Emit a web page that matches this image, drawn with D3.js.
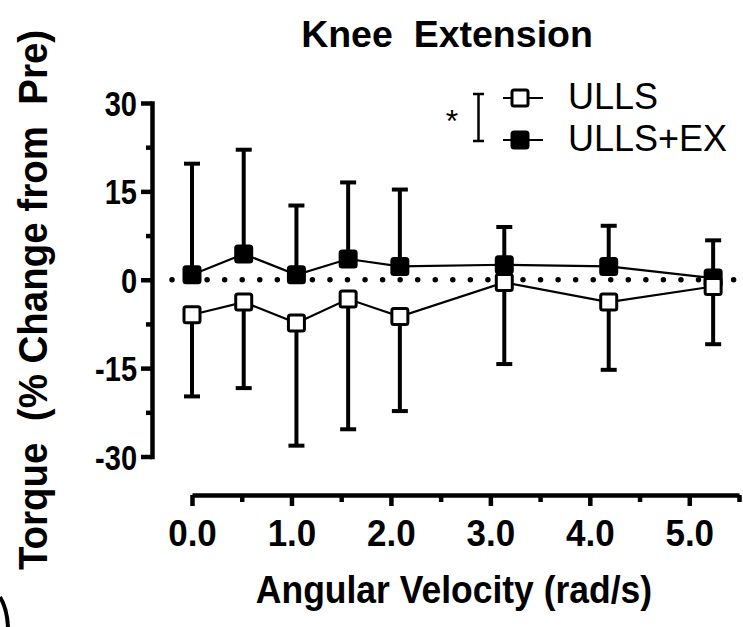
<!DOCTYPE html>
<html>
<head>
<meta charset="utf-8">
<script src="https://cdn.jsdelivr.net/npm/d3@7"></script>
<style>
  html, body { margin: 0; padding: 0; background: #fff; }
  svg { display: block; }
  text { font-family: "Liberation Sans", Arial, sans-serif; fill: #000; }
</style>
</head>
<body>
<svg id="chart" width="743" height="627"></svg>
<script>
// ---- data ----
const velocities = [0, 0.52, 1.05, 1.57, 2.09, 3.14, 4.19, 5.24];
const ullsMean   = [-5.95, -3.79, -7.36, -3.28, -6.24, -0.46, -3.79, -1.14];
const ullsSD     = [13.85, 14.6, 20.8, 22.1, 16.05, 13.85, 11.5, 9.8];
const exMean     = [0.85, 4.37, 0.85, 3.52, 2.26, 2.55, 2.26, 0.29];
const exSD       = [18.85, 17.7, 11.75, 13.0, 13.05, 6.4, 6.9, 6.4];
const yTicks     = [-30, -15, 0, 15, 30];
const yMinor     = [-22.5, -7.5, 7.5, 22.5];
const xTicks     = [0, 1, 2, 3, 4, 5];
const xMinor     = [0.5, 1.5, 2.5, 3.5, 4.5, 5.5];
const seriesNames = ["ULLS", "ULLS+EX"];

const svg = d3.select("#chart");
const x = d3.scaleLinear().domain([0, 5.5]).range([192, 739]);
const y = d3.scaleLinear().domain([-30, 30]).range([456.5, 103]);
const yAxisX = 152;
const xAxisY = 495;

// ---- title ----
svg.append("text").attr("x", 447).attr("y", 47)
  .attr("text-anchor", "middle").style("white-space", "pre")
  .attr("font-size", 37.5).attr("font-weight", "bold").text("Knee  Extension");

// ---- y axis ----
const yAxis = svg.append("g").attr("transform", `translate(${yAxisX},0)`);
yAxis.call(d3.axisLeft(y).tickValues(yTicks).tickSize(11).tickSizeOuter(0).tickPadding(4)
  .tickFormat(d => String(d)));
yAxis.append("g").call(d3.axisLeft(y).tickValues(yMinor).tickSize(6).tickSizeOuter(0).tickFormat(""))
  .select(".domain").remove();
yAxis.selectAll("line").attr("stroke", "#000").attr("stroke-width", 4.5);
yAxis.selectAll(".domain").attr("stroke", "#000").attr("stroke-width", 4.5).attr("stroke-linecap", "square");
yAxis.selectAll("text").attr("font-size", 29).attr("font-weight", "bold")
  .attr("font-family", "'Liberation Sans', Arial, sans-serif").attr("dy", "0.36em")
  .attr("transform", "scale(1,1.2)");

// ---- x axis ----
const xAxis = svg.append("g").attr("transform", `translate(0,${xAxisY})`);
xAxis.call(d3.axisBottom(x).tickValues(xTicks).tickSize(11).tickSizeOuter(0).tickPadding(11).tickFormat(d3.format(".1f")));
xAxis.append("g").call(d3.axisBottom(x).tickValues(xMinor).tickSize(7).tickSizeOuter(0).tickFormat(""))
  .select(".domain").remove();
xAxis.selectAll("line").attr("stroke", "#000").attr("stroke-width", 4.5);
xAxis.selectAll(".domain").attr("stroke", "#000").attr("stroke-width", 4.5);
xAxis.selectAll("text").attr("font-size", 35).attr("font-weight", "bold")
  .attr("font-family", "'Liberation Sans', Arial, sans-serif")
  .attr("transform", "scale(1,1.08)");

// ---- axis titles ----
svg.append("text").attr("transform", "translate(454,603) scale(1,1.1)").attr("text-anchor", "middle")
  .attr("font-size", 35.5).attr("font-weight", "bold").text("Angular Velocity (rad/s)");
svg.append("text").attr("transform", "translate(47,300) rotate(-90) scale(1,1.06)").attr("text-anchor", "middle")
  .style("white-space", "pre")
  .attr("font-size", 38.5).attr("font-weight", "bold").text("Torque  (% Change from  Pre)");
// clipped panel-label fragment at bottom-left
svg.append("path").attr("d", "M0,597 Q7,608 8,627").attr("fill", "none")
  .attr("stroke", "#000").attr("stroke-width", 4);

// ---- zero dotted line ----
svg.append("line").attr("x1", yAxisX + 20).attr("x2", x(5.5)).attr("y1", y(0)).attr("y2", y(0))
  .attr("stroke", "#000").attr("stroke-width", 5.5).attr("stroke-linecap", "round")
  .attr("stroke-dasharray", "0,17.55");

// ---- series ----
function drawSeries(means, sds, dir, fill) {
  const g = svg.append("g");
  const pts = velocities.map((v, i) => ({ v, m: means[i], e: means[i] + dir * sds[i] }));
  g.selectAll(".eb").data(pts).enter().append("line")
    .attr("x1", d => x(d.v)).attr("x2", d => x(d.v))
    .attr("y1", d => y(d.m)).attr("y2", d => y(d.e))
    .attr("stroke", "#000").attr("stroke-width", 4);
  g.selectAll(".cap").data(pts).enter().append("line")
    .attr("x1", d => x(d.v) - 8).attr("x2", d => x(d.v) + 8)
    .attr("y1", d => y(d.e)).attr("y2", d => y(d.e))
    .attr("stroke", "#000").attr("stroke-width", 4);
  g.append("path").datum(pts)
    .attr("d", d3.line().x(d => x(d.v)).y(d => y(d.m)))
    .attr("fill", "none").attr("stroke", "#000").attr("stroke-width", 2.2);
  g.selectAll(".mk").data(pts).enter().append("rect")
    .attr("x", d => x(d.v) - 8).attr("y", d => y(d.m) - 8)
    .attr("width", 16).attr("height", 16).attr("rx", 2)
    .attr("fill", fill).attr("stroke", "#000").attr("stroke-width", 3);
}
drawSeries(exMean, exSD, 1, "#000");
drawSeries(ullsMean, ullsSD, -1, "#fff");

// ---- legend ----
const lg = svg.append("g");
const legendY = [98, 140];
const fills = ["#fff", "#000"];
seriesNames.forEach((name, i) => {
  lg.append("line").attr("x1", 503).attr("x2", 543).attr("y1", legendY[i]).attr("y2", legendY[i])
    .attr("stroke", "#000").attr("stroke-width", 2.2);
  lg.append("rect").attr("x", 520 - 8).attr("y", legendY[i] - 8).attr("width", 16).attr("height", 16)
    .attr("rx", 2).attr("fill", fills[i]).attr("stroke", "#000").attr("stroke-width", 3);
  lg.append("text").attr("x", 568).attr("y", legendY[i] + 11).attr("font-size", 36).text(name);
});
// significance bracket
lg.append("path").attr("d", "M473,94H484M478.5,94V141M473,141H484")
  .attr("fill", "none").attr("stroke", "#000").attr("stroke-width", 2.5);
lg.append("text").attr("x", 452).attr("y", 132).attr("text-anchor", "middle").attr("font-size", 32).text("*");
</script>
</body>
</html>
